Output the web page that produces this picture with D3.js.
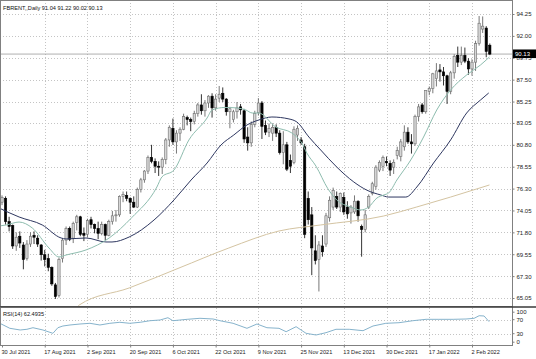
<!DOCTYPE html>
<html><head><meta charset="utf-8">
<script src="https://cdn.jsdelivr.net/npm/d3@7/dist/d3.min.js"></script>
<style>body{margin:0;background:#fff}svg{display:block}text{font-family:"Liberation Sans",Arial,sans-serif}</style>
</head><body><svg id="c" width="536" height="359"></svg>
<script>
const dates=["2021-07-30","2021-08-02","2021-08-03","2021-08-04","2021-08-05","2021-08-06","2021-08-09","2021-08-10","2021-08-11","2021-08-12",
"2021-08-13","2021-08-16","2021-08-17","2021-08-18","2021-08-19","2021-08-20","2021-08-23","2021-08-24","2021-08-25","2021-08-26",
"2021-08-27","2021-08-30","2021-08-31","2021-09-01","2021-09-02","2021-09-03","2021-09-06","2021-09-07","2021-09-08","2021-09-09",
"2021-09-10","2021-09-13","2021-09-14","2021-09-15","2021-09-16","2021-09-17","2021-09-20","2021-09-21","2021-09-22","2021-09-23",
"2021-09-24","2021-09-27","2021-09-28","2021-09-29","2021-09-30","2021-10-01","2021-10-04","2021-10-05","2021-10-06","2021-10-07",
"2021-10-08","2021-10-11","2021-10-12","2021-10-13","2021-10-14","2021-10-15","2021-10-18","2021-10-19","2021-10-20","2021-10-21",
"2021-10-22","2021-10-25","2021-10-26","2021-10-27","2021-10-28","2021-10-29","2021-11-01","2021-11-02","2021-11-03","2021-11-04",
"2021-11-05","2021-11-08","2021-11-09","2021-11-10","2021-11-11","2021-11-12","2021-11-15","2021-11-16","2021-11-17","2021-11-18",
"2021-11-19","2021-11-22","2021-11-23","2021-11-24","2021-11-25","2021-11-26","2021-11-29","2021-11-30","2021-12-01","2021-12-02",
"2021-12-03","2021-12-06","2021-12-07","2021-12-08","2021-12-09","2021-12-10","2021-12-13","2021-12-14","2021-12-15","2021-12-16",
"2021-12-17","2021-12-20","2021-12-21","2021-12-22","2021-12-23","2021-12-27","2021-12-28","2021-12-29","2021-12-30","2021-12-31",
"2022-01-03","2022-01-04","2022-01-05","2022-01-06","2022-01-07","2022-01-10","2022-01-11","2022-01-12","2022-01-13","2022-01-14",
"2022-01-17","2022-01-18","2022-01-19","2022-01-20","2022-01-21","2022-01-24","2022-01-25","2022-01-26","2022-01-27","2022-01-28",
"2022-01-31","2022-02-01","2022-02-02","2022-02-03","2022-02-04","2022-02-07","2022-02-08","2022-02-09"];

const open=[74.9,75.3,72.9,72.5,70.4,71.4,70.5,69.1,70.6,71.5,
71.2,70.5,69.5,69.1,68.2,66.4,65.3,69.1,71.0,72.2,
71.2,72.8,73.4,71.7,71.6,73.1,72.6,72.2,71.7,72.6,
71.5,72.9,73.5,73.6,75.5,75.6,75.3,74.9,74.4,76.2,
77.2,78.1,79.5,79.1,78.6,78.5,79.3,81.3,82.5,81.1,
82.0,82.4,83.6,83.4,83.2,84.0,84.9,84.3,85.1,85.8,
84.6,85.6,86.1,85.5,84.2,83.4,84.2,84.7,84.3,81.6,
81.0,82.9,84.1,85.1,82.8,82.1,82.0,82.6,82.0,80.0,
80.8,79.2,79.0,81.8,81.3,80.6,75.3,73.6,69.9,69.0,
70.4,70.6,73.3,74.4,75.5,74.4,75.4,74.4,73.8,73.9,
75.0,72.4,72.1,74.4,75.8,76.5,78.2,78.6,79.1,78.9,
78.5,79.7,79.6,80.6,82.1,81.1,80.9,83.7,84.9,84.2,
86.3,86.6,87.6,88.5,88.3,87.9,86.3,88.2,90.0,89.3,
90.0,89.4,88.6,89.3,91.2,92.7,92.8,91.04];
const high=[75.6,75.5,73.4,72.6,71.8,71.9,70.8,71.0,71.8,71.9,
71.5,70.6,70.0,69.6,68.3,66.6,69.2,71.2,72.4,72.4,
72.9,73.6,73.5,72.3,73.2,73.4,72.7,72.9,72.9,72.7,
73.1,74.0,74.1,75.6,76.0,76.0,75.4,75.5,76.4,77.4,
78.2,79.7,80.8,79.4,79.1,79.5,81.5,82.8,83.5,82.3,
82.6,84.0,83.8,83.6,84.3,85.1,86.0,85.4,85.9,86.1,
86.0,86.85,86.7,85.6,84.7,84.4,85.2,85.0,84.5,82.6,
83.2,84.3,85.6,85.3,83.3,83.0,83.0,82.9,82.3,82.2,
81.1,79.8,82.7,82.8,81.6,80.9,76.0,74.4,71.5,70.9,
71.5,73.8,75.5,76.4,76.0,75.9,75.9,75.0,74.6,75.6,
75.1,72.6,74.1,75.7,77.0,78.7,79.2,79.7,79.6,79.2,
79.3,80.6,81.4,82.8,82.6,81.9,83.9,85.0,85.1,86.4,
86.8,88.2,89.2,89.1,88.8,88.0,88.4,90.1,90.9,90.9,
90.8,89.7,89.6,91.5,94.04,94.0,93.0,91.22];
const low=[74.6,72.6,71.9,70.1,69.9,70.2,68.0,68.9,70.3,70.6,
70.3,68.9,68.3,67.8,66.3,64.95,65.1,68.7,70.5,70.9,
70.7,72.0,71.4,70.9,71.3,72.2,71.7,71.1,71.5,71.0,
71.4,72.6,72.9,73.4,74.9,75.0,73.7,74.3,74.3,75.9,
76.9,77.8,78.9,77.9,77.6,77.8,78.8,80.6,80.8,79.9,
81.2,82.3,82.8,82.2,82.9,83.7,83.9,83.7,84.6,83.6,
84.3,85.2,85.2,83.8,82.5,83.1,83.5,83.9,81.0,80.2,
80.6,82.6,83.8,81.4,81.8,81.6,81.2,81.6,79.8,78.8,
78.1,77.9,78.8,81.2,80.8,71.2,72.6,67.4,68.5,65.72,
69.3,70.3,72.9,74.1,74.2,73.9,73.6,73.2,72.7,73.7,
72.9,69.3,71.8,74.2,75.6,76.2,78.0,78.1,78.6,77.6,
77.8,79.3,79.1,80.2,80.9,79.9,80.7,83.2,84.0,84.0,
85.9,86.1,86.8,87.3,86.9,85.0,86.0,87.6,88.8,89.0,
89.2,88.0,87.9,88.4,91.0,92.3,89.8,90.02];
const close=[75.4,72.9,72.4,70.4,71.3,70.7,69.0,70.6,71.4,71.3,
70.6,69.5,69.0,68.2,66.5,65.2,69.0,71.0,72.2,71.1,
72.7,73.4,71.6,71.5,73.0,72.6,72.2,71.7,72.6,71.5,
72.9,73.5,73.6,75.5,75.7,75.3,74.9,74.4,76.2,77.2,
78.1,79.5,79.1,78.6,78.5,79.3,81.3,82.6,81.1,82.0,
82.4,83.7,83.4,83.2,84.0,84.9,84.3,85.1,85.8,84.6,
85.5,86.0,85.5,84.2,84.5,84.2,84.6,84.4,81.4,81.0,
82.9,84.0,85.1,82.7,82.1,82.5,82.6,82.0,80.0,80.8,
78.3,78.6,82.4,82.5,81.0,71.6,73.1,70.2,68.9,70.5,
69.8,73.5,75.1,76.1,74.4,75.8,73.9,73.7,74.4,75.0,
73.5,72.1,73.6,75.5,76.8,78.5,79.0,79.5,78.95,78.2,
79.0,80.2,81.1,82.1,81.1,80.9,83.7,84.7,84.2,86.4,
86.6,88.1,88.4,88.3,87.9,86.3,88.2,89.9,89.3,90.0,
89.4,88.6,89.3,91.2,93.3,93.0,90.4,90.13];

// moving averages: [bar index, price]
const maFast=[[-0.8,72.45],[1.2,72.56],[4.8,72.86],[8.5,72.25],[13.2,70.19],[16.0,69.27],[18.0,69.47],[23.6,69.99],[30.1,71.22],[36.4,73.3],[43.5,76.46],[44.9,77.49],[48.3,78.21],[52.5,81.3],[57.6,83.56],[59.0,84.38],[62.6,84.64],[66.0,84.59],[68.5,84.38],[70.3,84.07],[72.1,84.07],[76.9,82.63],[81.4,82.02],[82.8,81.6],[84.2,80.99],[85.6,79.96],[88.2,78.6],[91.5,76.3],[94.0,75.13],[97.9,74.41],[100.8,74.1],[103.0,74.41],[105.3,75.33],[107.2,75.64],[108.6,75.85],[110.9,77.18],[114.8,79.24],[118.4,81.6],[122.1,84.38],[126.0,86.44],[130.5,87.98],[134.4,89.01],[136.9,89.83]];
const maMid=[[-0.8,74.3],[4.8,73.38],[11.3,72.56],[16.6,71.22],[18.0,71.12],[23.6,71.22],[29.2,70.81],[30.9,70.81],[35.7,71.32],[42.7,73.07],[48.3,75.13],[53.1,77.18],[57.6,78.93],[61.5,80.78],[65.1,81.81],[68.8,82.84],[72.1,83.35],[75.8,83.66],[80.6,83.46],[82.8,83.15],[86.2,81.6],[89.5,80.27],[94.0,78.52],[98.8,76.98],[102.4,76.15],[106.4,75.64],[108.6,75.43],[113.4,75.43],[116.5,76.46],[121.2,78.93],[126.0,81.3],[130.5,84.07],[134.4,85.41],[136.7,86.13]];
const maSlow=[[15.0,63.5],[21.1,64.12],[21.7,64.33],[35.7,66.08],[49.7,68.13],[63.7,70.19],[77.8,71.94],[89.5,72.56],[107.2,73.48],[116.5,74.41],[126.0,75.43],[136.9,76.67]];
const rsi=[[-0.6,59.7],[2.2,45.4],[5.1,40.6],[7.0,42.6],[8.7,47.1],[11.5,40.6],[14.3,31.1],[15.7,47.1],[17.1,52],[19.1,54.9],[21.9,57.7],[24.7,59.7],[27.5,54.9],[30.3,59.7],[33.1,62.6],[35.9,59.7],[38.8,62.6],[41.6,67.1],[44.4,69.1],[46.6,75.7],[48.0,67.1],[52.0,71.1],[55.6,74],[59.3,72],[61.2,67.1],[64.9,59.7],[68.8,45.4],[71.6,57.7],[74.4,47.1],[77.8,45.4],[79.8,35.7],[82.6,50],[85.4,31.1],[88.2,26.3],[91.0,32.9],[93.8,42.6],[97.5,42.6],[101.4,38.6],[104.2,52],[107.8,59.7],[111.5,61.4],[115.4,67.1],[119.1,71.1],[122.7,71.1],[126.7,71.1],[130.3,72],[132.6,74],[134.0,81.4],[135.4,80.6],[136.8,64.3]];

const tickDates=["2021-07-30","2021-08-17","2021-09-02","2021-09-20","2021-10-06","2021-10-22","2021-11-09","2021-11-25","2021-12-13","2021-12-30","2022-01-17","2022-02-02"];
const tickLabels=["30 Jul 2021","17 Aug 2021","2 Sep 2021","20 Sep 2021","6 Oct 2021","22 Oct 2021","9 Nov 2021","25 Nov 2021","13 Dec 2021","30 Dec 2021","17 Jan 2022","2 Feb 2022"];
const priceTicks=[94.25,92.00,89.75,87.50,85.25,83.05,80.80,78.55,76.30,74.05,71.80,69.55,67.30,65.05];
const rsiTicks=[100,70,30,0];
const title="FBRENT,,Daily  91.04 91.22 90.02 90.13";
const rsiTitle="RSI(14) 62.4935";
const lastPrice=90.13;

const svg=d3.select("#c");
const W=536, R=512, mainB=306, rsiT=308, rsiB=345;
svg.append("rect").attr("width",W).attr("height",359).attr("fill","#fff");

const x=d3.scalePoint().domain(dates).range([2,489.8]);
const xi=d3.scaleLinear().domain([0,dates.length-1]).range([2,489.8]);
const y=d3.scaleLinear().domain([65.05,94.25]).range([298,14]);
const yr=d3.scaleLinear().domain([0,100]).range([344.2,309.2]);

const defs=svg.append("defs");
defs.append("clipPath").attr("id","cm").append("rect").attr("x",0).attr("y",0).attr("width",R).attr("height",mainB);
defs.append("clipPath").attr("id","cr").append("rect").attr("x",0).attr("y",rsiT).attr("width",R).attr("height",rsiB-rsiT);

const grid="#c4c4c4";
// grid main
const gm=svg.append("g");
gm.selectAll("line.h").data(priceTicks).join("line")
  .attr("x1",0).attr("x2",R).attr("y1",d=>Math.round(y(d))+0.5).attr("y2",d=>Math.round(y(d))+0.5)
  .attr("stroke",grid).attr("stroke-width",1).attr("stroke-dasharray","1,2");
gm.selectAll("line.v").data(tickDates.slice(1)).join("line")
  .attr("x1",d=>Math.round(x(d))+0.5).attr("x2",d=>Math.round(x(d))+0.5).attr("y1",0).attr("y2",mainB)
  .attr("stroke",grid).attr("stroke-width",1).attr("stroke-dasharray","1,2");
// grid rsi
const gr=svg.append("g");
gr.selectAll("line.v").data(tickDates.slice(1)).join("line")
  .attr("x1",d=>Math.round(x(d))+0.5).attr("x2",d=>Math.round(x(d))+0.5).attr("y1",rsiT).attr("y2",rsiB)
  .attr("stroke",grid).attr("stroke-width",1).attr("stroke-dasharray","1,2");
gr.selectAll("line.h").data([70,30]).join("line")
  .attr("x1",0).attr("x2",R).attr("y1",d=>Math.round(yr(d))+0.5).attr("y2",d=>Math.round(yr(d))+0.5)
  .attr("stroke",grid).attr("stroke-width",1).attr("stroke-dasharray","1,2");

// bid line
svg.append("line").attr("x1",0).attr("x2",R).attr("y1",y(lastPrice)).attr("y2",y(lastPrice))
  .attr("stroke","#9a9a9a").attr("stroke-width",0.8);

// candles
const idx=d3.range(dates.length);
const gc=svg.append("g").attr("clip-path","url(#cm)");
const bw=2.3;
gc.selectAll("line.w").data(idx).join("line")
  .attr("x1",i=>x(dates[i])).attr("x2",i=>x(dates[i]))
  .attr("y1",i=>y(high[i])).attr("y2",i=>y(low[i]))
  .attr("stroke",i=>close[i]>=open[i]?"#555":"#000").attr("stroke-width",0.8);
gc.selectAll("rect.b").data(idx).join("rect")
  .attr("x",i=>x(dates[i])-bw/2).attr("width",bw)
  .attr("y",i=>y(Math.max(open[i],close[i])))
  .attr("height",i=>Math.max(0.8,Math.abs(y(open[i])-y(close[i]))))
  .attr("fill",i=>close[i]>=open[i]?"#d6d6d6":"#000")
  .attr("stroke",i=>close[i]>=open[i]?"#6e6e6e":"#000").attr("stroke-width",0.6);

// MAs
const ln=d3.line().x(d=>xi(d[0])).y(d=>y(d[1])).curve(d3.curveMonotoneX);
const gl=svg.append("g").attr("clip-path","url(#cm)").attr("fill","none");
gl.append("path").attr("d",ln(maSlow)).attr("stroke","#d4c4a2").attr("stroke-width",1);
gl.append("path").attr("d",ln(maMid)).attr("stroke","#2e3760").attr("stroke-width",1);
gl.append("path").attr("d",ln(maFast)).attr("stroke","#8dbcae").attr("stroke-width",1);

// RSI
const lr=d3.line().x(d=>xi(d[0])).y(d=>yr(d[1]));
svg.append("g").attr("clip-path","url(#cr)").append("path").attr("d",lr(rsi))
  .attr("fill","none").attr("stroke","#86b3cc").attr("stroke-width",1);

// frames
svg.append("rect").attr("x",0.5).attr("y",0.5).attr("width",R).attr("height",mainB).attr("fill","none").attr("stroke","#808080");
svg.append("line").attr("x1",R+0.5).attr("x2",R+0.5).attr("y1",0).attr("y2",rsiB).attr("stroke","#808080");
svg.append("line").attr("x1",0).attr("x2",W).attr("y1",mainB+1).attr("y2",mainB+1).attr("stroke","#3a3a3a").attr("stroke-width",1.6);
svg.append("line").attr("x1",0).attr("x2",R+1).attr("y1",rsiB+0.5).attr("y2",rsiB+0.5).attr("stroke","#808080");
svg.append("line").attr("x1",0.5).attr("x2",0.5).attr("y1",rsiT).attr("y2",rsiB).attr("stroke","#808080");

// price axis
const ay=svg.append("g").attr("transform",`translate(${R+0.5},0)`)
  .call(d3.axisRight(y).tickValues(priceTicks).tickFormat(d3.format(".2f")).tickSize(2).tickPadding(2));
ay.select(".domain").remove();
ay.selectAll("line").attr("stroke","#808080");
ay.selectAll("text").attr("font-size","6px").attr("fill","#222").attr("font-family","Liberation Sans, Arial, sans-serif");

// last price tag
svg.append("rect").attr("x",R+1).attr("y",y(lastPrice)-4.6).attr("width",W-R-1).attr("height",8.6).attr("fill","#000");
svg.append("text").attr("x",R+3).attr("y",y(lastPrice)).attr("dy","0.35em").attr("font-size","6px").attr("fill","#fff").text(lastPrice.toFixed(2));

// RSI axis
const ar=svg.append("g").attr("transform",`translate(${R+0.5},0)`)
  .call(d3.axisRight(yr).tickValues(rsiTicks).tickFormat(d=>d).tickSize(2).tickPadding(2));
ar.select(".domain").remove();
ar.selectAll("line").attr("stroke","#808080");
ar.selectAll(".tick").attr("transform",d=>`translate(0,${d===100?yr(d)+3:d===0?yr(d)-2:yr(d)})`);
ar.selectAll("text").attr("font-size","6px").attr("fill","#222").attr("font-family","Liberation Sans, Arial, sans-serif");

// date axis
const ax=svg.append("g").attr("transform",`translate(0,${rsiB+0.5})`)
  .call(d3.axisBottom(x).tickValues(tickDates).tickFormat((d,i)=>tickLabels[i]).tickSize(2).tickPadding(3));
ax.select(".domain").remove();
ax.selectAll("line").attr("stroke","#808080");
ax.selectAll("text").attr("text-anchor","start").attr("dx","-1").attr("font-size","5.6px").attr("fill","#222").attr("font-family","Liberation Sans, Arial, sans-serif");

// titles
svg.append("text").attr("x",3).attr("y",10).attr("font-size","5.6px").attr("fill","#111").text(title);
svg.append("text").attr("x",3).attr("y",315.5).attr("font-size","5.6px").attr("fill","#111").text(rsiTitle);
</script></body></html>
